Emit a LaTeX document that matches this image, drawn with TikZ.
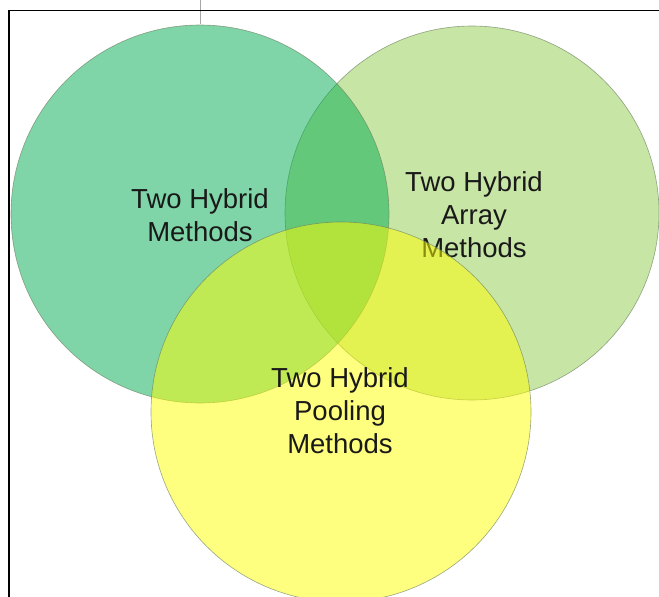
\documentclass[tikz,border=0pt]{standalone}
\usepackage{fontspec}
\setmainfont{Liberation Sans}
\definecolor{setA}{RGB}{145,205,75}
\definecolor{setB}{RGB}{0,173,80}
\definecolor{setC}{RGB}{255,255,0}
\definecolor{rim}{RGB}{110,130,100}
\tikzset{
  setdisc/.style={fill=#1, fill opacity=0.5, draw=rim, draw opacity=0.7, line width=0.6pt},
  setlabel/.style={align=center, text=black!90, font=\fontsize{27.5}{33}\selectfont},
  frameline/.style={draw=black, line width=1.2pt},
}
\begin{document}
\begin{tikzpicture}[x=1pt,y=-1pt]
  \useasboundingbox (0,0) rectangle (659,597);
  \fill[white] (0,0) rectangle (659,597);
  \begin{scope}
    \clip (0,0) rectangle (659,597);
    % array methods set
    \path[setdisc=setA] (472,213) circle[radius=187];
    \node[setlabel] (array) at (474,215) {Two Hybrid\\Array\\Methods};
    % two hybrid methods set
    \path[setdisc=setB] (200,214) circle[radius=189];
    \node[setlabel] (hybrid) at (200,215) {Two Hybrid\\Methods};
    % pooling methods set
    \path[setdisc=setC] (341,412) circle[radius=190];
    \node[setlabel] (pooling) at (340,411) {Two Hybrid\\Pooling\\Methods};
  \end{scope}
  % frame and tick
  \coordinate (tickTop) at (200,0);
  \coordinate (tickEnd) at (200,24);
  \draw[draw=black!35, line width=1pt] (tickTop) -- (tickEnd);
  \coordinate (frameTR) at (659,10.5);
  \coordinate (frameTL) at (9,10.5);
  \coordinate (frameBL) at (9,597);
  \draw[frameline] (frameTR) -- (frameTL) -- (frameBL);
\end{tikzpicture}
\end{document}
